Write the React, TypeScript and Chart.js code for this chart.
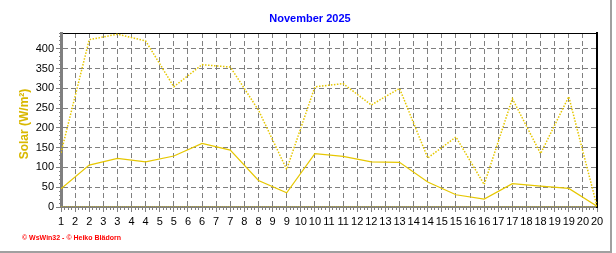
import React, { useEffect, useRef } from "react";
import { Chart, registerables } from "chart.js";

Chart.register(...registerables);

const days = [1, 2, 3, 4, 5, 6, 7, 8, 9, 10, 11, 12, 13, 14, 15, 16, 17, 18, 19, 20];
const maxSolar = [137, 423, 437, 420, 304, 360, 354, 245, 95, 304, 312, 258, 300, 124, 177, 57, 274, 135, 279, 2];
const avgSolar = [46, 106, 123, 114, 129, 161, 144, 67, 36, 135, 128, 114, 113, 63, 31, 20, 59, 53, 47, 2];
const minSolar = [0, 0, 0, 0, 0, 0, 0, 0, 0, 0, 0, 0, 0, 0, 0, 0, 0, 0, 0, 0];

const titleText = "November 2025";
const yTitleText = "Solar (W/m²)";
const footerText = "© WsWin32 - © Heiko Blädorn";

const FONT = "'Liberation Sans', Arial, sans-serif";
const LINE = "#e6c700";
const GRID = "#808080";

const toPoints = (vals: number[]) => days.map((d, i) => ({ x: d, y: vals[i] }));

const decorPlugin = {
  id: "decor",
  afterDraw(chart: any) {
    const ctx = chart.ctx as CanvasRenderingContext2D;
    ctx.save();
    ctx.fillStyle = "#0000ff";
    ctx.font = `bold 11px ${FONT}`;
    ctx.textAlign = "center";
    ctx.textBaseline = "middle";
    ctx.fillText(titleText, 310, 19);
    ctx.save();
    ctx.translate(25, 124);
    ctx.rotate(-Math.PI / 2);
    ctx.fillStyle = "#d9b800";
    ctx.font = `bold 12px ${FONT}`;
    ctx.fillText(yTitleText, 0, 0);
    ctx.restore();
    ctx.fillStyle = "#ff0000";
    ctx.font = `bold 7px ${FONT}`;
    ctx.textAlign = "left";
    ctx.fillText(footerText, 22, 238);
    ctx.fillStyle = "#a0a0a0";
    ctx.fillRect(610, 0, 2, 253);
    ctx.fillRect(0, 251, 612, 2);
    ctx.restore();
  },
};

export default function App() {
  const ref = useRef<HTMLCanvasElement>(null);
  useEffect(() => {
    if (!ref.current) return;
    const chart = new Chart(ref.current, {
      type: "line",
      data: {
        datasets: [
          {
            label: "Max",
            data: toPoints(maxSolar),
            borderColor: LINE,
            borderWidth: 1.5,
            borderDash: [1.5, 1.5],
            pointRadius: 0,
            tension: 0,
          },
          {
            label: "Mittel",
            data: toPoints(avgSolar),
            borderColor: LINE,
            borderWidth: 1.2,
            pointRadius: 0,
            tension: 0,
          },
          {
            label: "Min",
            data: toPoints(minSolar),
            borderColor: LINE,
            borderWidth: 1,
            borderDash: [1, 1],
            pointRadius: 0,
            tension: 0,
          },
        ],
      },
      options: {
        animation: false,
        responsive: false,
        devicePixelRatio: 1,
        layout: { padding: { top: 33, left: 0, right: 19, bottom: 0 } },
        plugins: { legend: { display: false }, tooltip: { enabled: false }, title: { display: false } },
        scales: {
          x: {
            type: "linear",
            position: "bottom",
            min: 1,
            max: 20,
            weight: 0,
            ticks: {
              stepSize: 0.5,
              autoSkip: false,
              maxRotation: 0,
              minRotation: 0,
              padding: 3,
              color: "#000",
              font: { family: FONT, size: 11 },
              callback: (v: any) => String(Math.ceil(Number(v) - 1e-9)),
            },
            grid: {
              color: GRID,
              lineWidth: 1,
              tickLength: 5,
              tickColor: GRID,
              drawTicks: true,
            },
            border: { display: true, color: GRID, width: 2, dash: [5, 3] },
            afterFit: (s: any) => { s.height = 46; },
          },
          xm: {
            type: "linear",
            position: "bottom",
            min: 1,
            max: 20,
            weight: -1,
            ticks: { stepSize: 0.125, display: false, autoSkip: false },
            grid: { drawOnChartArea: false, drawTicks: true, tickLength: 3, tickColor: GRID, color: GRID },
            border: { display: false },
            afterFit: (s: any) => { s.height = 0; },
          },
          xt: {
            type: "linear",
            position: "top",
            min: 1,
            max: 20,
            ticks: { display: false },
            grid: { display: false },
            border: { display: true, color: "#000", width: 1 },
            afterFit: (s: any) => { s.height = 0; },
          },
          y: {
            type: "linear",
            position: "left",
            min: 0,
            max: 440,
            weight: 0,
            ticks: {
              stepSize: 50,
              includeBounds: false,
              padding: 2,
              color: "#000",
              font: { family: FONT, size: 11 },
            },
            grid: { color: GRID, lineWidth: 1, tickLength: 5, tickColor: GRID },
            border: { display: true, color: GRID, width: 3, dash: [5, 3] },
            afterFit: (s: any) => { s.width = 61; },
          },
          ym: {
            type: "linear",
            position: "left",
            min: 0,
            max: 440,
            weight: -1,
            ticks: { stepSize: 10, display: false, includeBounds: false },
            grid: { drawOnChartArea: false, drawTicks: true, tickLength: 2, tickColor: GRID, color: GRID },
            border: { display: false },
            afterFit: (s: any) => { s.width = 0; },
          },
          yr: {
            type: "linear",
            position: "right",
            min: 0,
            max: 440,
            ticks: { display: false },
            grid: { display: false },
            border: { display: true, color: "#000", width: 2 },
            afterFit: (s: any) => { s.width = 0; },
          },
        },
      } as any,
      plugins: [decorPlugin],
    });
    return () => chart.destroy();
  }, []);
  return (
    <div style={{ position: "absolute", left: 0, top: 0, width: 616, height: 253, background: "#fff" }}>
      <canvas ref={ref} width={616} height={253} style={{ display: "block" }} />
    </div>
  );
}
